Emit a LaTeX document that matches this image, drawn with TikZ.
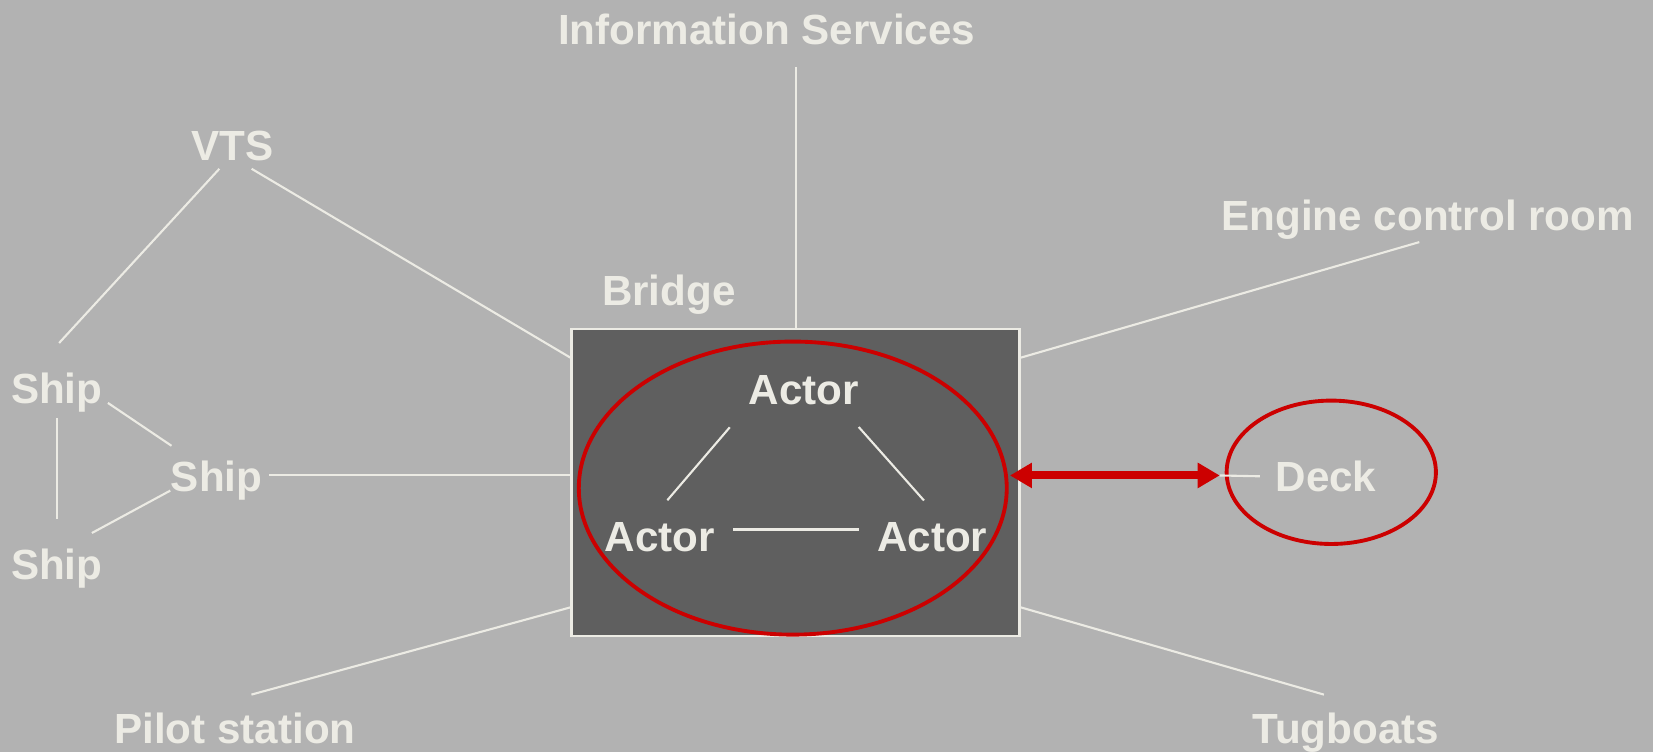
\documentclass[tikz,border=0pt]{standalone}
\usepackage{fontspec}
\setmainfont{Liberation Sans}
\usetikzlibrary{arrows.meta,shapes.geometric}
\definecolor{slate}{RGB}{178,178,178}
\definecolor{deckgrey}{RGB}{95,95,95}
\definecolor{chalk}{RGB}{236,235,228}
\definecolor{signal}{RGB}{204,0,0}

\begin{document}
\begin{tikzpicture}[x=0.0105421cm, y=-0.0105421cm,
        lbl/.style={text=chalk, inner sep=0pt, anchor=base, font=\bfseries\fontsize{12}{14}\selectfont},
        link/.style={draw=chalk, line width=0.6pt},
        ring/.style={ellipse, draw=signal, line width=1.1pt, inner sep=0pt},
        duplex/.style={draw=signal, line width=2.3pt, {Triangle[length=2.2mm,width=2.4mm]}-{Triangle[length=2.2mm,width=2.4mm]}}]
        \path[use as bounding box, fill=slate] (0, 0) rectangle (1568, 713.3);

        \node[draw=chalk, fill=deckgrey, line width=0.7pt, inner sep=0pt, minimum width=4.481cm, minimum height=3.068cm] (bridge) at (754.7, 457.7) {};
        \node[ring, minimum width=4.28cm, minimum height=2.931cm] (crew) at (752, 463) {};
        \node[ring, minimum width=2.093cm, minimum height=1.434cm] (deckring) at (1262.8, 448) {};

        \node[lbl] (info) at (727.2, 42.0) {Information Services};
        \node[lbl] (vts) at (220.2, 152.4) {VTS};
        \node[lbl] (engine) at (1354.3, 218.2) {Engine control room};
        \node[lbl] (bridgelabel) at (634.5, 290.2) {Bridge};
        \node[lbl] (ship1) at (53.8, 382.5) {Ship};
        \node[lbl] (ship2) at (205.5, 466.4) {Ship};
        \node[lbl] (ship3) at (53.8, 550.1) {Ship};
        \node[lbl] (actortop) at (762.4, 384.1) {Actor};
        \node[lbl] (actorleft) at (626, 523.3) {Actor};
        \node[lbl] (actorright) at (884.3, 523.3) {Actor};
        \node[lbl, anchor=base west] (deck) at (1209.3, 466.4) {Deck};
        \node[lbl] (pilot) at (222.9, 705) {Pilot station};
        \node[lbl] (tug) at (1276.5, 705) {Tugboats};

        \draw[link, shorten >=2.18mm] (bridge.north) -- (bridge.north |- info.south);
        \draw[link, shorten <=0.96mm, shorten >=3.94mm] (vts.248) -- (ship1.140);
        \draw[link, shorten <=1.38mm] (vts.296) -- (bridge.151);
        \draw[link, shorten >=0.88mm] (bridge.29) -- (engine.south);
        \draw[link, shorten >=6.58mm] (bridge.209) -- (pilot.161);
        \draw[link, shorten >=6.27mm] (bridge.331) -- (tug.28);
        \draw[link, shorten >=0.59mm] (bridge.178) -- (ship2.east |- bridge.178);

        \draw[link, shorten <=0.58mm, shorten >=2.62mm] (ship1.351) -- (ship2.139);
        \draw[link, shorten <=0.52mm, shorten >=2.95mm] (ship1.south) -- (ship3.north);
        \draw[link, shorten <=3.29mm] (ship3.73) -- (ship2.192);

        \draw[link, shorten <=2.8mm, shorten >=2.86mm] (actortop.south west) -- (actorleft.126);
        \draw[link, shorten <=2.81mm, shorten >=2.87mm] (actortop.337) -- (actorright.55);
        \draw[link, shorten <=1.73mm, shorten >=1.73mm] (actorleft.8) -- (actorright.172);

        \coordinate (port) at (958, 451);
        \coordinate (tip) at (1157, 451);
        \draw[link, shorten >=1.5mm] (tip) -- (deck.west);
        \draw[duplex] (port) -- (tip);
    \end{tikzpicture}
\end{document}
